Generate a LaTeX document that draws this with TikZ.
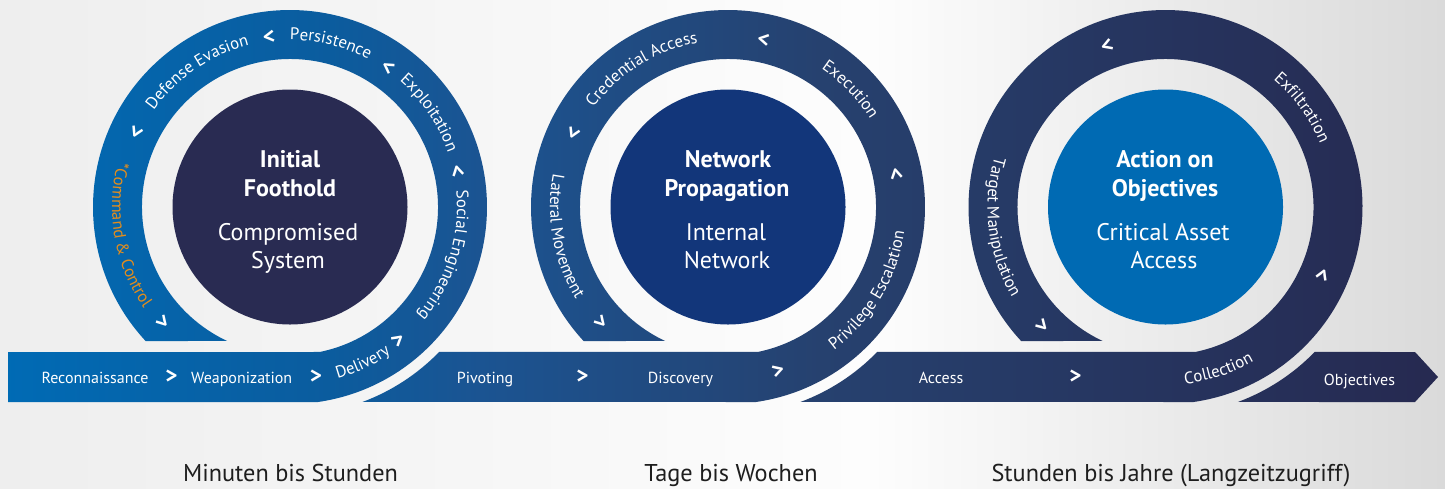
\documentclass[tikz,border=0pt]{standalone}
\usepackage{fontspec}
\setmainfont{PT Sans}
\usetikzlibrary{calc,decorations.text}

\definecolor{bgL}{HTML}{EEEEEE}
\definecolor{bgM}{HTML}{FDFDFD}
\definecolor{bgR}{HTML}{DADADA}
\definecolor{bA}{HTML}{006BB5}
\definecolor{bB}{HTML}{0B5C9E}
\definecolor{bC}{HTML}{1B5492}
\definecolor{bD}{HTML}{26416F}
\definecolor{bE}{HTML}{262950}
\definecolor{coreA}{HTML}{292B52}
\definecolor{coreB}{HTML}{12367A}
\definecolor{coreC}{HTML}{006AB3}
\definecolor{ccorange}{HTML}{E38D1D}
\definecolor{labeltext}{HTML}{1E1E1E}

\pgfdeclarehorizontalshading{bgshade}{100bp}{color(0bp)=(bgL); color(25bp)=(bgL); color(55.1bp)=(bgM); color(75bp)=(bgR); color(100bp)=(bgR)}
\pgfdeclarehorizontalshading{bandshade}{100bp}{color(0bp)=(bA); color(25bp)=(bA); color(36.4bp)=(bB); color(41.6bp)=(bC); color(53.4bp)=(bD); color(75bp)=(bE); color(100bp)=(bE)}

\newcommand\ringfont{\fontsize{16.8}{16.8}\selectfont}
\newcommand\barfont{\fontsize{16}{16}\selectfont}
\newcommand\titlefont{\fontsize{24}{28}\selectfont\bfseries}
\newcommand\subfont{\fontsize{24}{28}\selectfont}
\newcommand\timefont{\fontsize{24.3}{28}\selectfont}
\newcommand\chevfont{\fontsize{23}{23}\selectfont\bfseries}

% clockwise label (tops outward): centre coordinate, angle, text, colour
\newcommand\cwlabel[4]{%
  \path[decorate, decoration={text along path, text={|\ringfont|#3}, text align=center, text color=#4}]
    ($(#1)+(#2+42:167)$) arc[start angle=#2+42, end angle=#2-42, radius=167pt];}
% counter-clockwise label (tops inward)
\newcommand\ccwlabel[4]{%
  \path[decorate, decoration={text along path, text={|\ringfont|#3}, text align=center, text color=#4}]
    ($(#1)+(#2-42:178)$) arc[start angle=#2-42, end angle=#2+42, radius=178pt];}

\tikzset{
  barlabel/.style={anchor=base, text=white, font=\barfont, inner sep=0pt},
  chevron/.style={text=white, font=\chevfont, inner sep=0pt},
  coretitle/.style={anchor=base, text=white, font=\titlefont, inner sep=0pt},
  coresub/.style={anchor=base, text=white, font=\subfont, inner sep=0pt},
  timelabel/.style={anchor=base, text=labeltext, font=\timefont, inner sep=0pt},
}

\begin{document}
\begin{tikzpicture}[x=1pt,y=1pt]
\useasboundingbox (0,0) rectangle (1445,-488);
\shade[shading=bgshade] (0,0) rectangle (1445,-488);

\coordinate (C1) at (290,-207);
\coordinate (C2) at (728,-207);
\coordinate (C3) at (1165.5,-207);

% bands
\begin{scope}
\clip (8,-352) -- ($(C1)+(-78.44:148)$)
        arc[start angle=-78.44, end angle=244.87, radius=148pt]
        -- ($(C1)+(222.86:197)$)
        arc[start angle=222.86, end angle=-81.83, radius=197pt]
        -- (8,-402) -- cycle
      ($(C1)+(-44.19:208)$) -- ($(C2)+(-78.44:148)$)
        arc[start angle=-78.44, end angle=244.87, radius=148pt]
        -- ($(C2)+(222.86:197)$)
        arc[start angle=222.86, end angle=-81.83, radius=197pt]
        -- ($(C1)+(-69.63:208)$)
        arc[start angle=-69.63, end angle=-44.19, radius=208pt] -- cycle
      ($(C2)+(-44.19:208)$) -- ($(C3)+(-78.44:148)$)
        arc[start angle=-78.44, end angle=244.87, radius=148pt]
        -- ($(C3)+(222.86:197)$)
        arc[start angle=222.86, end angle=-81.83, radius=197pt]
        -- ($(C2)+(-69.63:208)$)
        arc[start angle=-69.63, end angle=-44.19, radius=208pt] -- cycle
      ($(C3)+(-44.19:208)$) -- (1415,-352) -- (1438,-377) -- (1415,-402)
        -- ($(C3)+(-69.63:208)$)
        arc[start angle=-69.63, end angle=-44.19, radius=208pt] -- cycle;
\shade[shading=bandshade] (0,0) rectangle (1445,-488);
\end{scope}

% cores
\fill[coreA] (C1) circle[radius=117.5pt];
\fill[coreB] (C2) circle[radius=117.5pt];
\fill[coreC] (C3) circle[radius=117.5pt];

\node[coretitle] (t1a) at (290,-167) {Initial};
\node[coretitle] (t1b) at (290,-196) {Foothold};
\node[coresub] (s1a) at (288,-240) {Compromised};
\node[coresub] (s1b) at (288,-268) {System};

\node[coretitle] (t2a) at (728,-167) {Network};
\node[coretitle] (t2b) at (727,-196) {Propagation};
\node[coresub] (s2a) at (726,-240) {Internal};
\node[coresub] (s2b) at (727,-268) {Network};

\node[coretitle] (t3a) at (1165,-167) {Action on};
\node[coretitle] (t3b) at (1165,-196) {Objectives};
\node[coresub] (s3a) at (1163,-240) {Critical Asset};
\node[coresub] (s3b) at (1164,-268) {Access};

% bar labels
\node[barlabel] (recon) at (95,-383) {Reconnaissance};
\node[chevron] (hc1) at (171.5,-377) {>};
\node[barlabel] (weap) at (241.7,-383) {Weaponization};
\node[chevron] (hc2) at (316,-377) {>};
\node[barlabel] (pivot) at (485,-383) {Pivoting};
\node[chevron] (hc3) at (582.5,-377) {>};
\node[barlabel] (disc) at (680.5,-383) {Discovery};
\node[barlabel] (acc) at (941,-383) {Access};
\node[chevron] (hc4) at (1075.5,-377) {>};
\node[barlabel] (obj) at (1359.5,-385) {Objectives};

% ring 1 labels
\cwlabel{C1}{124.4}{Defense Evasion}{white}
\cwlabel{C1}{76}{Persistence}{white}
\cwlabel{C1}{34}{Exploitation}{white}
\cwlabel{C1}{-17.3}{Social Engineering}{white}
\ccwlabel{C1}{-65}{Delivery}{white}
\ccwlabel{C1}{190}{*Command {\&} Control}{ccorange}
\node[chevron, rotate=39] (r1c1) at ($(C1)+(-51:172)$) {>};
\node[chevron, rotate=102] (r1c2) at ($(C1)+(12:172)$) {>};
\node[chevron, rotate=145] (r1c3) at ($(C1)+(55:172)$) {>};
\node[chevron, rotate=187] (r1c4) at ($(C1)+(97:172)$) {>};
\node[chevron, rotate=244] (r1c5) at ($(C1)+(154:172)$) {>};
\node[chevron, rotate=312] (r1c6) at ($(C1)+(222:172)$) {>};

% ring 2 labels
\cwlabel{C2}{122}{Credential Access}{white}
\cwlabel{C2}{43.8}{Execution}{white}
\ccwlabel{C2}{-30.7}{Privilege Escalation}{white}
\ccwlabel{C2}{190.3}{Lateral Movement}{white}
\node[chevron, rotate=17] (r2c1) at ($(C2)+(-73:172)$) {>};
\node[chevron, rotate=101] (r2c2) at ($(C2)+(11:172)$) {>};
\node[chevron, rotate=168] (r2c3) at ($(C2)+(78:172)$) {>};
\node[chevron, rotate=244.6] (r2c4) at ($(C2)+(154.6:172)$) {>};
\node[chevron, rotate=312] (r2c5) at ($(C2)+(222:172)$) {>};

% ring 3 labels
\cwlabel{C3}{36}{Exfiltration}{white}
\ccwlabel{C3}{-72}{Collection}{white}
\ccwlabel{C3}{187}{Target Manipulation}{white}
\node[chevron, rotate=66.6] (r3c1) at ($(C3)+(-23.4:172)$) {>};
\node[chevron, rotate=200] (r3c2) at ($(C3)+(110:172)$) {>};
\node[chevron, rotate=314] (r3c3) at ($(C3)+(224:172)$) {>};

% time labels
\node[timelabel] (time1) at (290.5,-481) {Minuten bis Stunden};
\node[timelabel] (time2) at (731,-481) {Tage bis Wochen};
\node[timelabel] (time3) at (1171,-481) {Stunden bis Jahre (Langzeitzugriff)};
\end{tikzpicture}
\end{document}
